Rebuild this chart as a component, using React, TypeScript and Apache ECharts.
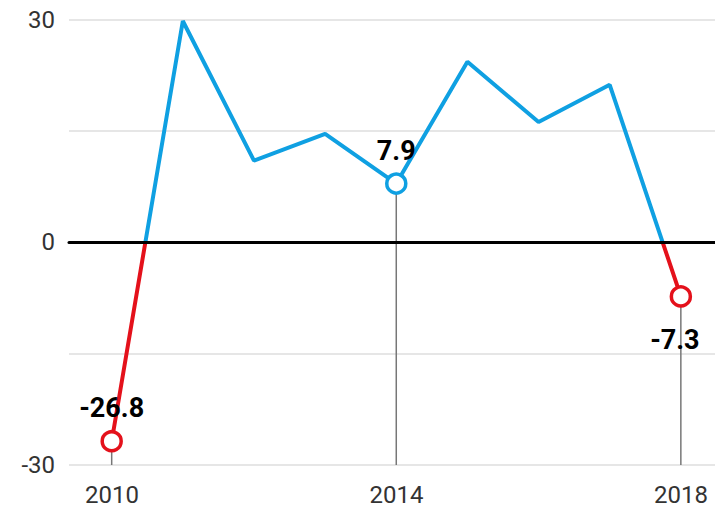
import React, { useEffect, useRef } from "react";
import * as echarts from "echarts";

const years = [2010, 2011, 2012, 2013, 2014, 2015, 2016, 2017, 2018];
const values = [-26.8, 29.8, 11.0, 14.6, 7.9, 24.3, 16.2, 21.2, -7.3];
const highlightYears = [2010, 2014, 2018];
const highlightValues = [-26.8, 7.9, -7.3];

const BLUE = "#0fa0e2";
const RED = "#e4111b";
const FONT = "Roboto";

const GRID_TOP = 19.5;
const GRID_BOTTOM = 55;
const HEIGHT = 520;

export default function App() {
  const ref = useRef<HTMLDivElement>(null);
  useEffect(() => {
    if (!ref.current) return;
    const chart = echarts.init(ref.current, undefined, { renderer: "svg" });
    const lineData = years.map((y, i) => [y, values[i]]);
    const dots = highlightYears.map((y, i) => {
      const v = highlightValues[i];
      const neg = v < 0;
      const below = i === 2;
      return {
        value: [y, v],
        itemStyle: { color: "#fff", borderColor: neg ? RED : BLUE, borderWidth: 3.5, opacity: 1 },
        label: {
          show: true,
          position: below ? "bottom" : "top",
          distance: below ? 19 : 8,
          offset: below ? [-6, 0] : [0, 0],
          formatter: String(v),
        },
      };
    });
    const stemData = highlightYears.map((y, i) => [y, highlightValues[i]]);
    // y axis is symmetric (-30..30), so zero sits at the middle of the plot height
    const lineColor = {
      type: "linear",
      x: 0,
      y: GRID_TOP,
      x2: 0,
      y2: HEIGHT - GRID_BOTTOM,
      global: true,
      colorStops: [
        { offset: 0, color: BLUE },
        { offset: 0.5, color: BLUE },
        { offset: 0.5, color: RED },
        { offset: 1, color: RED },
      ],
    };
    chart.setOption({
      animation: false,
      grid: [
        { left: 69, right: 0, top: GRID_TOP, bottom: GRID_BOTTOM, containLabel: false },
        { left: 112, right: 34, top: GRID_TOP, bottom: GRID_BOTTOM, containLabel: false },
      ],
      xAxis: [
        {
          type: "value",
          gridIndex: 0,
          min: 2009.4,
          max: 2018.48,
          axisLine: { show: true, onZero: true, lineStyle: { color: "#000", width: 3 } },
          axisTick: { show: false },
          splitLine: { show: false },
          axisLabel: { show: false },
          z: 3,
        },
        {
          type: "value",
          gridIndex: 1,
          min: 2010,
          max: 2018,
          interval: 4,
          axisLine: { show: false },
          axisTick: { show: false },
          splitLine: { show: false },
          axisLabel: {
            fontFamily: FONT,
            fontSize: 24,
            color: "#333",
            margin: 18,
            formatter: (v: number) => String(v),
          },
        },
      ],
      yAxis: [
        {
          type: "value",
          gridIndex: 0,
          min: -30,
          max: 30,
          interval: 15,
          axisLine: { show: false },
          axisTick: { show: false },
          splitLine: { lineStyle: { color: "#dedede", width: 1.5 } },
          axisLabel: { show: false },
        },
        {
          type: "value",
          gridIndex: 1,
          min: -30,
          max: 30,
          interval: 30,
          offset: 43,
          axisLine: { show: false },
          axisTick: { show: false },
          splitLine: { show: false },
          axisLabel: {
            fontFamily: FONT,
            fontSize: 24,
            color: "#333",
            margin: 14,
          },
        },
      ],
      series: [
        {
          type: "custom",
          z: 1,
          xAxisIndex: 0,
          yAxisIndex: 0,
          silent: true,
          data: stemData,
          renderItem: (params: any, api: any) => {
            const top = api.coord([api.value(0), api.value(1)]);
            const bottom = api.coord([api.value(0), -30]);
            return {
              type: "line",
              shape: { x1: top[0], y1: top[1], x2: bottom[0], y2: bottom[1] },
              style: { stroke: "#777", lineWidth: 1.5 },
            };
          },
        },
        {
          type: "line",
          z: 2,
          xAxisIndex: 0,
          yAxisIndex: 0,
          data: lineData,
          showSymbol: false,
          lineStyle: { width: 4, color: lineColor },
        },
        {
          type: "scatter",
          z: 5,
          xAxisIndex: 0,
          yAxisIndex: 0,
          symbol: "circle",
          symbolSize: 19,
          data: dots,
          itemStyle: { opacity: 1 },
          label: {
            fontFamily: FONT,
            fontWeight: "bold",
            fontSize: 27,
            color: "#000",
          },
        },
      ],
    });
    return () => chart.dispose();
  }, []);
  return (
    <div
      ref={ref}
      style={{ position: "fixed", left: 0, top: 0, width: 715, height: 520, background: "#fff" }}
    />
  );
}
